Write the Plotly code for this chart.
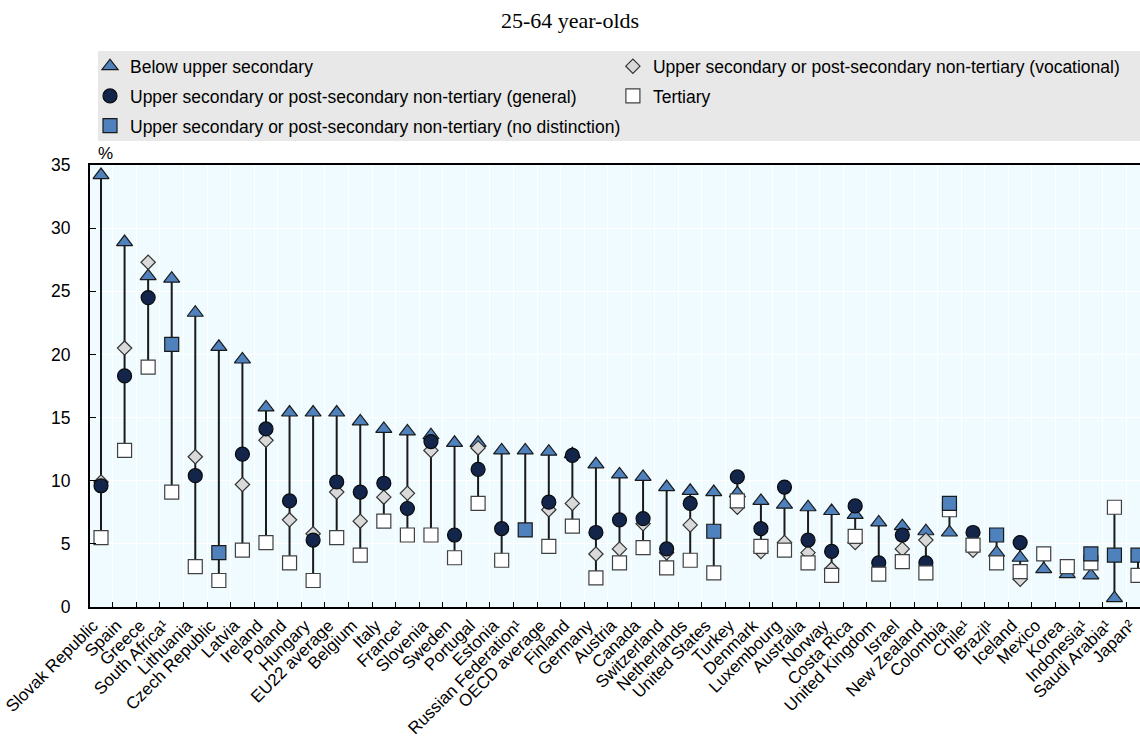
import plotly.graph_objects as go

# Unemployment rates of 25-64 year-olds by educational attainment (%)
countries = [
    "Slovak Republic", "Spain", "Greece", "South Africa¹", "Lithuania",
    "Czech Republic", "Latvia", "Ireland", "Poland", "Hungary",
    "EU22 average", "Belgium", "Italy", "France¹", "Slovenia",
    "Sweden", "Portugal", "Estonia", "Russian Federation¹", "OECD average",
    "Finland", "Germany", "Austria", "Canada", "Switzerland",
    "Netherlands", "United States", "Turkey", "Denmark", "Luxembourg",
    "Australia", "Norway", "Costa Rica", "United Kingdom", "Israel",
    "New Zealand", "Colombia", "Chile¹", "Brazil¹", "Iceland",
    "Mexico", "Korea", "Indonesia¹", "Saudi Arabia¹", "Japan²",
]

below_upper_secondary = [
    34.2, 28.9, 26.2, 26.0, 23.3,
    20.6, 19.6, 15.8, 15.4, 15.4,
    15.4, 14.7, 14.1, 13.9, 13.6,
    13.0, 13.0, 12.4, 12.4, 12.3,
    12.1, 11.3, 10.5, 10.3, 9.5,
    9.2, 9.1, 9.0, 8.4, 8.1,
    7.9, 7.6, 7.3, 6.7, 6.4,
    6.0, 5.9, None, 4.3, 3.9,
    3.0, 2.6, 2.5, 0.7, None,
]

general = [
    9.6, 18.3, 24.5, None, 10.4,
    None, 12.1, 14.1, 8.4, 5.3,
    9.9, 9.1, 9.8, 7.8, 13.1,
    5.7, 10.9, 6.2, None, 8.3,
    12.0, 5.9, 6.9, 7.0, 4.6,
    8.2, None, 10.3, 6.2, 9.5,
    5.3, 4.4, 8.0, 3.5, 5.7,
    3.5, None, 5.9, None, 5.1,
    None, None, None, None, None,
]

vocational = [
    9.9, 20.5, 27.3, None, 11.9,
    None, 9.7, 13.2, 6.9, 5.8,
    9.1, 6.8, 8.7, 9.0, 12.4,
    None, 12.6, None, None, 7.7,
    8.2, 4.2, 4.6, 6.6, 4.3,
    6.5, None, 7.9, 4.4, 5.1,
    4.3, 3.0, 5.1, None, 4.6,
    5.3, None, 4.5, None, 2.2,
    None, None, None, None, None,
]

tertiary = [
    5.5, 12.4, 19.0, 9.1, 3.2,
    2.1, 4.5, 5.1, 3.5, 2.1,
    5.5, 4.1, 6.8, 5.7, 5.7,
    3.9, 8.2, 3.7, None, 4.8,
    6.4, 2.3, 3.5, 4.7, 3.1,
    3.7, 2.7, 8.4, 4.8, 4.5,
    3.5, 2.5, 5.6, 2.6, 3.6,
    2.7, 7.7, 4.9, 3.5, 2.8,
    4.2, 3.2, 3.5, 7.9, 2.5,
]

no_distinction = [
    None, None, None, 20.8, None,
    4.3, None, None, None, None,
    None, None, None, None, None,
    None, None, None, 6.1, None,
    None, None, None, None, None,
    None, 6.0, None, None, None,
    None, None, None, None, None,
    None, 8.2, None, 5.7, None,
    None, None, 4.2, 4.1, 4.1,
]

BLUE = "#4F81BD"
NAVY = "#13254A"
GREY_FILL = "#D9D9D9"
FONT = "Liberation Sans, Arial, sans-serif"

# range line joining the lowest and highest rate of each country
line_x, line_y = [], []
all_series = (below_upper_secondary, general, vocational, tertiary, no_distinction)
for i, c in enumerate(countries):
    vals = [s[i] for s in all_series if s[i] is not None]
    line_x += [c, c, None]
    line_y += [min(vals), max(vals), None]

fig = go.Figure()
fig.add_trace(go.Scatter(
    x=line_x, y=line_y, mode="lines",
    line=dict(color="#1A1A1A", width=2),
    showlegend=False, hoverinfo="skip",
))

marker_specs = [
    # name, data, symbol, size, fill, outline, legend, rank
    ("Below upper secondary", below_upper_secondary, "triangle-up", 14, BLUE, "#1A1A1A", "legend", 1),
    ("Upper secondary or post-secondary non-tertiary (vocational)", vocational, "diamond", 11, GREY_FILL, "#333333", "legend2", 2),
    ("Upper secondary or post-secondary non-tertiary (general)", general, "circle", 14, NAVY, "#0A0A0A", "legend", 3),
    ("Tertiary", tertiary, "square", 14, "#FFFFFF", "#404040", "legend2", 4),
    ("Upper secondary or post-secondary non-tertiary (no distinction)", no_distinction, "square", 14, BLUE, "#1A1A1A", "legend", 5),
]

for name, data, symbol, size, fill, outline, leg, rank in marker_specs:
    fig.add_trace(go.Scatter(
        x=countries, y=data, mode="markers", name=name,
        marker=dict(symbol=symbol, size=size, color=fill,
                    line=dict(color=outline, width=1.2)),
        legend=leg, legendgroup=name, legendrank=rank,
    ))

legend_common = dict(
    orientation="v", xanchor="left", yanchor="top",
    bgcolor="rgba(0,0,0,0)", borderwidth=0,
    font=dict(family=FONT, size=17.5, color="#000000"),
    traceorder="grouped", tracegroupgap=4,
)

fig.update_layout(
    width=1140, height=738,
    margin=dict(l=90, r=0, t=165, b=131, autoexpand=False),
    paper_bgcolor="#FFFFFF",
    plot_bgcolor="#EFFBFE",
    title=dict(
        text="25-64 year-olds", x=0.5, xanchor="center",
        y=1 - 20 / 738, yanchor="middle",
        font=dict(family="Liberation Serif, Times New Roman, serif", size=22, color="#000000"),
    ),
    legend=dict(x=0.0, y=1.264, **legend_common),
    legend2=dict(x=0.498, y=1.264, **legend_common),
    shapes=[dict(
        type="rect", xref="paper", yref="paper",
        x0=0.0076, x1=1.0, y0=1.0543, y1=1.258,
        fillcolor="#E8E8E8", line=dict(width=0), layer="below",
    )],
    annotations=[dict(
        text="%", xref="paper", yref="paper", x=0.015, y=1.027,
        xanchor="center", yanchor="middle", showarrow=False,
        font=dict(family=FONT, size=17, color="#000000"),
    )],
    showlegend=True,
)

fig.update_xaxes(
    type="category", categoryorder="array", categoryarray=countries,
    range=[-0.467, 44.085], automargin=False,
    tickson="boundaries", ticks="inside", ticklen=5, tickcolor="#000000",
    showgrid=True, gridcolor="#FFFFFF", gridwidth=1,
    showline=True, linecolor="#000000", linewidth=2, mirror=True,
    tickangle=-45, ticklabelshift=-8,
    tickfont=dict(family=FONT, size=17, color="#000000"),
    zeroline=False,
)

fig.update_yaxes(
    range=[0, 35], tickvals=[0, 5, 10, 15, 20, 25, 30, 35], automargin=False,
    ticks="inside", ticklen=6, tickcolor="#000000",
    showgrid=True, gridcolor="#FFFFFF", gridwidth=1,
    showline=True, linecolor="#000000", linewidth=2, mirror=False,
    ticklabelstandoff=14,
    tickfont=dict(family=FONT, size=17.5, color="#000000"),
    zeroline=False,
)

fig.write_html("out.html")
